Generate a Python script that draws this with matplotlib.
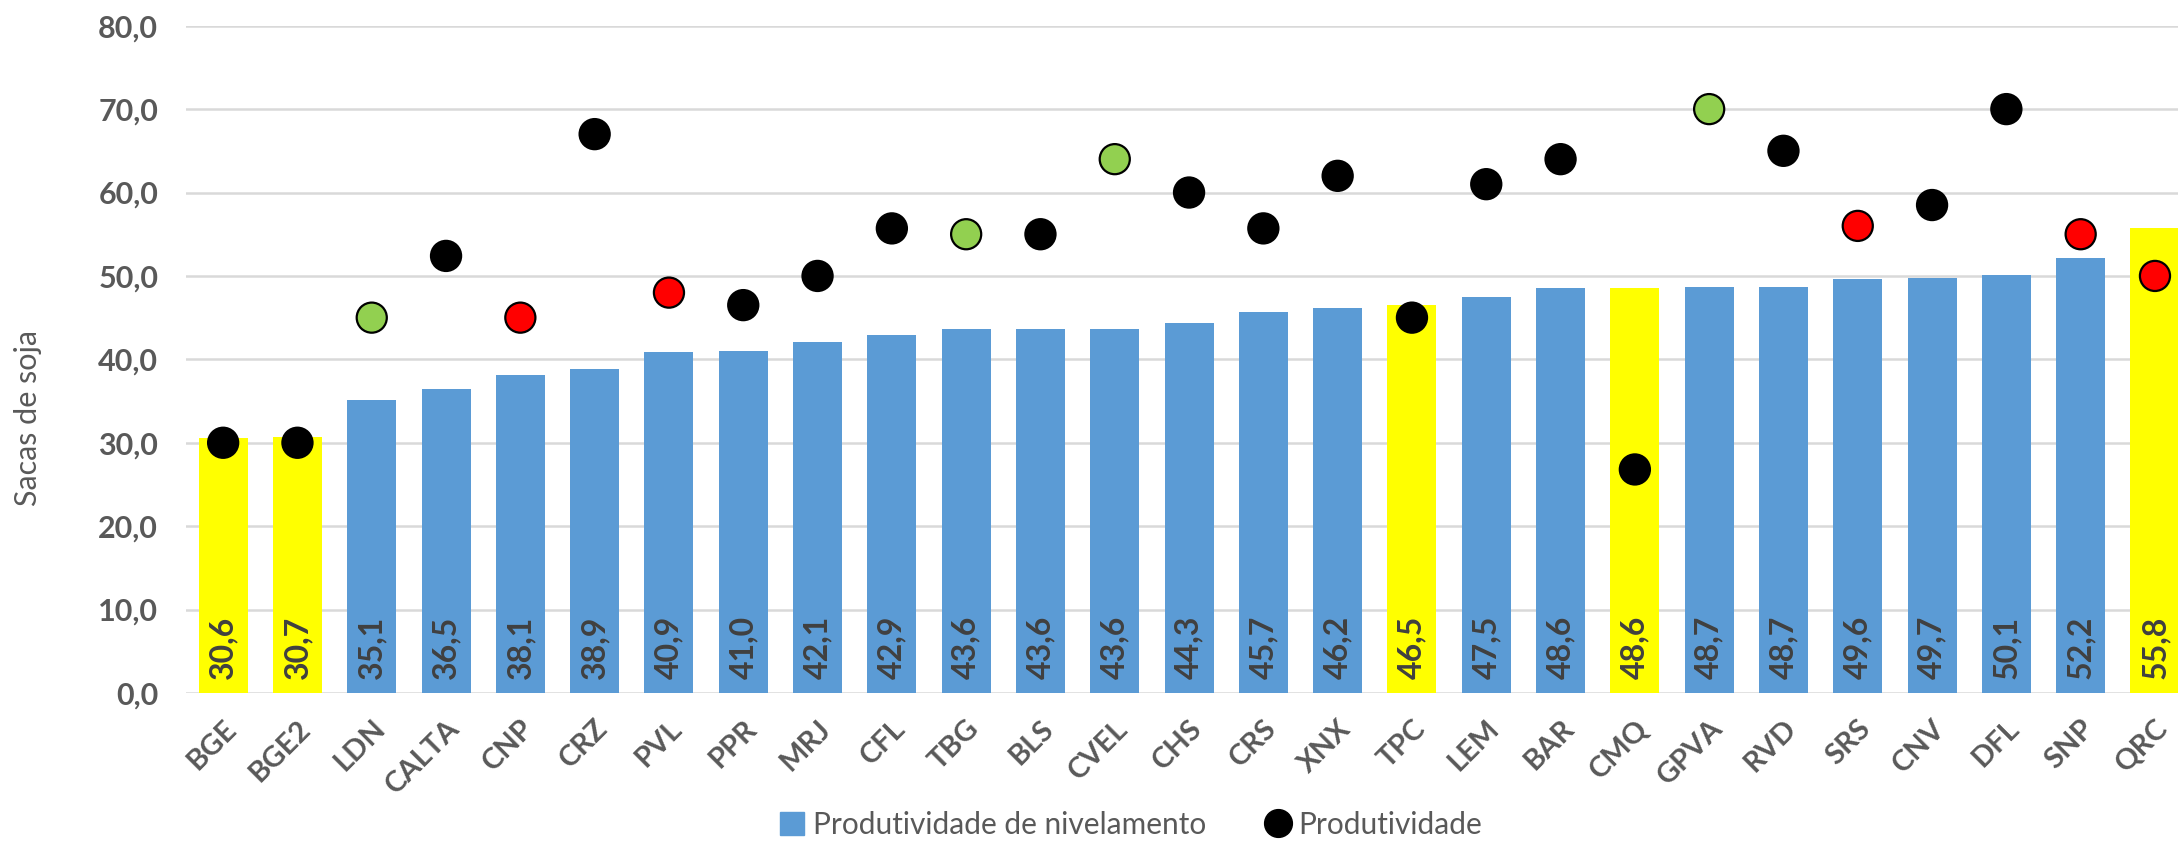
import matplotlib
matplotlib.use("Agg")
import matplotlib.pyplot as plt
from matplotlib.lines import Line2D
from matplotlib.patches import Patch

plt.rcParams['font.family'] = ['Lato', 'DejaVu Sans']

categories = ["BGE", "BGE2", "LDN", "CALTA", "CNP", "CRZ", "PVL", "PPR", "MRJ", "CFL",
              "TBG", "BLS", "CVEL", "CHS", "CRS", "XNX", "TPC", "LEM", "BAR", "CMQ",
              "GPVA", "RVD", "SRS", "CNV", "DFL", "SNP", "QRC"]
nivelamento = [30.6, 30.7, 35.1, 36.5, 38.1, 38.9, 40.9, 41.0, 42.1, 42.9,
               43.6, 43.6, 43.6, 44.3, 45.7, 46.2, 46.5, 47.5, 48.6, 48.6,
               48.7, 48.7, 49.6, 49.7, 50.1, 52.2, 55.8]
produtividade = [30, 30, 45, 52.4, 45, 67, 48, 46.5, 50, 55.7,
                 55, 55, 64, 60, 55.7, 62, 45, 61, 64, 26.8,
                 70, 65, 56, 58.5, 70, 55, 50]
highlighted = ["BGE", "BGE2", "TPC", "CMQ", "QRC"]
green_pts = ["LDN", "TBG", "CVEL", "GPVA"]
red_pts = ["CNP", "PVL", "SRS", "SNP", "QRC"]
yticks = [0, 10, 20, 30, 40, 50, 60, 70, 80]

BLUE = "#5B9BD5"
YELLOW = "#FFFF00"
GREEN = "#92D050"
RED = "#FF0000"
GRAY = "#595959"

fig = plt.figure(figsize=(21.78, 8.41), dpi=100)
ax = fig.add_axes([186/2178, (841-693)/841, 1 - 186/2178, (693-25.7)/841])

x = list(range(len(categories)))
bar_colors = [YELLOW if c in highlighted else BLUE for c in categories]
ax.bar(x, nivelamento, width=0.66, color=bar_colors, zorder=2)

for xi, v in zip(x, nivelamento):
    ax.text(xi, 1.7, f"{v:.1f}".replace(".", ","), rotation=90, ha="center", va="bottom",
            fontsize=23, fontweight="bold", color="#404040", zorder=3)

pt_colors = [GREEN if c in green_pts else RED if c in red_pts else "black" for c in categories]
ax.scatter(x, produtividade, s=470, c=pt_colors, edgecolors="black", linewidths=1.6, zorder=4)

ax.set_ylim(0, 80)
ax.set_xlim(-0.5, 26.31)
ax.set_yticks(yticks)
ax.set_yticklabels([f"{t:.1f}".replace(".", ",") for t in yticks], fontsize=22,
                   fontweight="bold", color=GRAY)
ax.set_xticks(x)
ax.set_xticklabels(categories, rotation=45, ha="right", rotation_mode="anchor",
                   fontsize=21, fontweight="bold", color=GRAY)
ax.tick_params(axis="both", length=0)
ax.tick_params(axis="y", pad=20)
ax.tick_params(axis="x", pad=16)
for s in ax.spines.values():
    s.set_visible(False)
ax.grid(axis="y", color="#D9D9D9", linewidth=1.8, zorder=0)
ax.set_axisbelow(True)

fig.text(28/2178, 1 - 418/841, "Sacas de soja", rotation=90, ha="center", va="center",
         fontsize=22, color=GRAY)

handles = [Patch(facecolor=BLUE, edgecolor=BLUE),
           Line2D([], [], marker="o", linestyle="none", markerfacecolor="black",
                  markeredgecolor="black", markersize=20)]
fig.legend(handles, ["Produtividade de nivelamento", "Produtividade"],
           loc="center", bbox_to_anchor=(1131/2178, 16/841), ncol=2, frameon=False,
           fontsize=21.5, labelcolor=GRAY, handlelength=0.8, handleheight=0.8,
           handletextpad=0.3, columnspacing=2.0, borderpad=0.1)

fig.savefig("out.png", dpi=100)
